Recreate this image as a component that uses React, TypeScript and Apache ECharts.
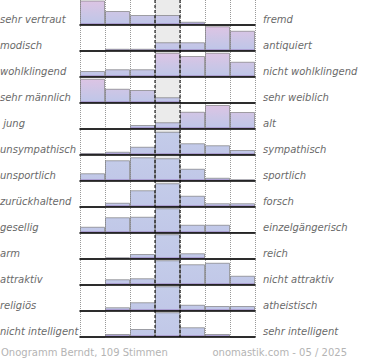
import React, { useEffect, useRef } from "react";
import * as echarts from "echarts";

const CATEGORIES = ["1", "2", "3", "4", "5", "6", "7"];

const LEFT_LABELS = [
  "sehr vertraut", "modisch", "wohlklingend", "sehr männlich", " jung",
  "unsympathisch", "unsportlich", "zurückhaltend", "gesellig", "arm",
  "attraktiv", "religiös", "nicht intelligent",
];
const RIGHT_LABELS = [
  "fremd", "antiquiert", "nicht wohlklingend", "sehr weiblich", "alt",
  "sympathisch", "sportlich", "forsch", "einzelgängerisch", "reich",
  "nicht attraktiv", "atheistisch", "sehr intelligent",
];

// relative bar heights per row (100 = tallest possible)
const vertraut = [98, 56, 40, 40, 13, 0, 0];
const modisch = [0, 9, 9, 35, 35, 99, 81];
const wohlklingend = [24, 31, 31, 97, 84, 97, 61];
const maennlich = [97, 57, 52, 23, 0, 0, 0];
const jung = [0, 0, 16, 27, 69, 96, 68];
const unsympathisch = [8, 13, 33, 93, 47, 39, 20];
const unsportlich = [31, 83, 95, 91, 49, 13, 7];
const zurueckhaltend = [0, 17, 67, 95, 45, 15, 15];
const gesellig = [25, 63, 65, 99, 33, 33, 3];
const arm = [0, 7, 20, 99, 23, 0, 0];
const attraktiv = [0, 23, 27, 99, 83, 89, 37];
const religioes = [0, 15, 35, 99, 25, 20, 20];
const intelligent = [0, 12, 32, 99, 39, 12, 0];

const ROWS = [
  vertraut, modisch, wohlklingend, maennlich, jung, unsympathisch,
  unsportlich, zurueckhaltend, gesellig, arm, attraktiv, religioes, intelligent,
];

const FOOTER_LEFT = "Onogramm Berndt, 109 Stimmen";
const FOOTER_RIGHT = "onomastik.com - 05 / 2025";

const LEFT = 80;
const COL = 25;
const ROW_H = 26;
const BAR_H = 25;
const FONT = "DejaVu Sans";

export default function App() {
  const ref = useRef<HTMLDivElement>(null);
  useEffect(() => {
    if (!ref.current) return;
    const chart = echarts.init(ref.current, null, { renderer: "svg" });
    const n = ROWS.length;
    const totalH = (n - 1) * ROW_H + BAR_H;
    const plotW = COL * CATEGORIES.length;

    const grids: any[] = [{ left: LEFT, top: 0, width: plotW, height: totalH }];
    const xAxes: any[] = [
      {
        gridIndex: 0,
        type: "category",
        data: CATEGORIES,
        axisLine: { show: false },
        axisTick: { show: false },
        axisLabel: { show: false },
        splitLine: { show: true, interval: 0, lineStyle: { type: "dotted", color: "#999", width: 1 } },
        splitArea: {
          show: true,
          interval: 0,
          areaStyle: {
            color: [
              "rgba(0,0,0,0)", "rgba(0,0,0,0)", "rgba(0,0,0,0)", "#ebebeb",
              "rgba(0,0,0,0)", "rgba(0,0,0,0)", "rgba(0,0,0,0)",
            ],
          },
        },
      },
    ];
    const yAxes: any[] = [{ gridIndex: 0, type: "value", min: 0, max: 1, show: false }];
    const series: any[] = [
      { type: "bar", xAxisIndex: 0, yAxisIndex: 0, data: [], silent: true },
    ];
    const graphics: any[] = [];

    ROWS.forEach((row, i) => {
      const top = i * ROW_H;
      const base = top + BAR_H;
      grids.push({ left: LEFT, top, width: plotW, height: BAR_H });
      xAxes.push({
        gridIndex: i + 1,
        type: "category",
        data: CATEGORIES,
        axisLine: { show: true, lineStyle: { color: "#000", width: 1.6 } },
        axisTick: { show: false },
        axisLabel: { show: false },
        splitLine: { show: false },
        z: 5,
      });
      yAxes.push({ gridIndex: i + 1, type: "value", min: 0, max: 100, show: false });
      const pink = i < 5;
      const stops = pink
        ? [
            { offset: 0, color: "#dec4e4" },
            { offset: 0.55, color: "#cbc6e6" },
            { offset: 0.9, color: "#c0c6e8" },
            { offset: 0.94, color: "#ab9fd2" },
            { offset: 1, color: "#9d90c6" },
          ]
        : [
            { offset: 0, color: "#c4cce9" },
            { offset: 0.9, color: "#c1c8e8" },
            { offset: 0.94, color: "#ab9fd2" },
            { offset: 1, color: "#9d90c6" },
          ];
      series.push({
        type: "bar",
        xAxisIndex: i + 1,
        yAxisIndex: i + 1,
        data: row,
        barCategoryGap: "0%",
        barGap: "0%",
        silent: true,
        itemStyle: {
          color: new echarts.graphic.LinearGradient(0, top, 0, base, stops, true),
          borderColor: "rgba(110,110,110,0.6)",
          borderWidth: 1,
        },
      });
      graphics.push({
        type: "text",
        x: 0,
        y: base - 5.5,
        style: {
          text: LEFT_LABELS[i],
          font: `italic 10px "${FONT}"`,
          fill: "#6a6a6a",
          verticalAlign: "middle",
          align: "left",
        },
      });
      graphics.push({
        type: "text",
        x: LEFT + plotW + 8,
        y: base - 5.5,
        style: {
          text: RIGHT_LABELS[i],
          font: `italic 10px "${FONT}"`,
          fill: "#6a6a6a",
          verticalAlign: "middle",
          align: "left",
        },
      });
    });

    [3, 4].forEach((k) => {
      graphics.push({
        type: "line",
        z: 100,
        shape: { x1: LEFT + k * COL, y1: 0, x2: LEFT + k * COL, y2: totalH },
        style: { stroke: "#000", lineWidth: 1, lineDash: [3, 2] },
      });
    });

    graphics.push({
      type: "text",
      x: 1,
      y: 352,
      style: {
        text: FOOTER_LEFT,
        font: `10px "${FONT}"`,
        fill: "#b4b4b4",
        verticalAlign: "middle",
        align: "left",
      },
    });
    graphics.push({
      type: "text",
      x: 347,
      y: 352,
      style: {
        text: FOOTER_RIGHT,
        font: `10px "${FONT}"`,
        fill: "#b4b4b4",
        verticalAlign: "middle",
        align: "right",
      },
    });

    chart.setOption({
      animation: false,
      grid: grids,
      xAxis: xAxes,
      yAxis: yAxes,
      series,
      graphic: graphics,
    });
    return () => chart.dispose();
  }, []);
  return <div ref={ref} style={{ width: 370, height: 360, position: "absolute", left: 0, top: 0 }} />;
}
